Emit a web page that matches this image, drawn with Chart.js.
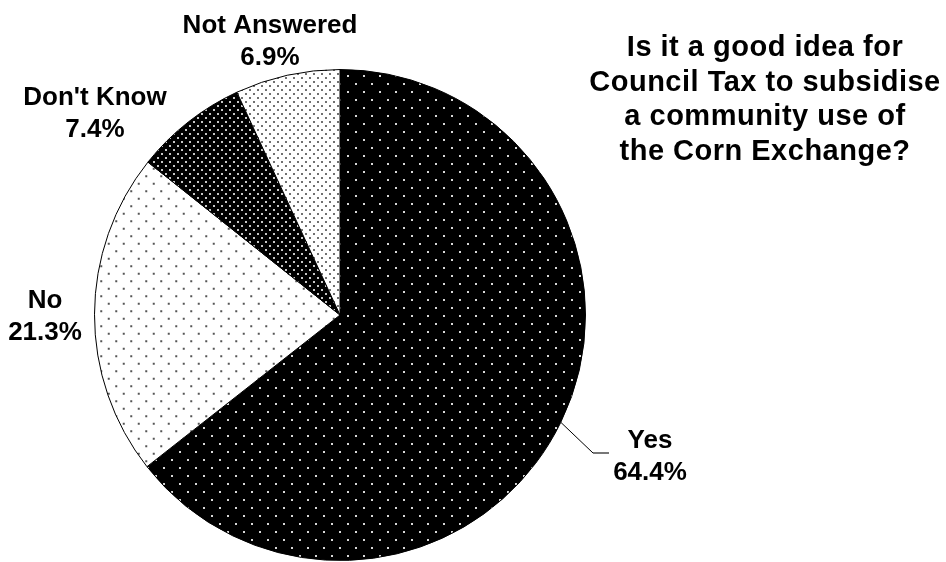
<!DOCTYPE html>
<html>
<head>
<meta charset="utf-8">
<script src="https://cdn.jsdelivr.net/npm/chart.js@4"></script>
<style>
  html, body { margin: 0; padding: 0; background: #fff; }
  #wrap { width: 946px; height: 562px; }
</style>
</head>
<body>
<div id="wrap"><canvas id="chart" width="946" height="562"></canvas></div>
<script>
const answers = ['Yes', 'No', "Don't Know", 'Not Answered'];
const shares = [64.4, 21.3, 7.4, 6.9];
const titleLines = ['Is it a good idea for', 'Council Tax to subsidise', 'a community use of', 'the Corn Exchange?'];

// label centres (x, y of first line) for each slice
const labelSpots = [[650, 441], [45, 301], [95, 98], [270, 26]];
const FONT = 'bold 26px "Liberation Sans", Arial, sans-serif';
const TITLE_FONT = 'bold 29px "Liberation Sans", Arial, sans-serif';

function dotPattern(bg, fg, size, dot) {
    const c = document.createElement('canvas');
    c.width = size;
    c.height = size;
    const x = c.getContext('2d');
    x.fillStyle = bg;
    x.fillRect(0, 0, size, size);
    x.fillStyle = fg;
    x.fillRect(size / 4 - dot / 2, size / 4 - dot / 2, dot, dot);
    x.fillRect(3 * size / 4 - dot / 2, 3 * size / 4 - dot / 2, dot, dot);
    return x.createPattern(c, 'repeat');
}

const fills = [
    dotPattern('#000', '#d8d8d8', 16, 2),
    dotPattern('#fff', '#555', 15, 2),
    dotPattern('#000', '#c8c8c8', 8, 2),
    dotPattern('#fff', '#222', 8, 1.6)
];

const labelPlugin = {
    id: 'labels',
    afterDraw(chart) {
        const ctx = chart.ctx;
        ctx.save();
        ctx.font = FONT;
        ctx.fillStyle = '#000';
        ctx.textAlign = 'center';
        ctx.textBaseline = 'middle';

        answers.forEach((name, i) => {
            const [lx, ly] = labelSpots[i];
            ctx.fillText(name, lx, ly);
            ctx.fillText(shares[i].toFixed(1) + '%', lx, ly + 32);
        });

        // leader line for Yes
        const arc = chart.getDatasetMeta(0).data[0];
        const mid = (arc.startAngle + arc.endAngle) / 2;
        const sx = arc.x + Math.cos(mid) * arc.outerRadius;
        const sy = arc.y + Math.sin(mid) * arc.outerRadius;
        ctx.strokeStyle = '#000';
        ctx.lineWidth = 1;
        ctx.beginPath();
        ctx.moveTo(sx, sy);
        ctx.lineTo(593, 453);
        ctx.stroke();
        ctx.strokeStyle = '#777';
        ctx.lineWidth = 2;
        ctx.beginPath();
        ctx.moveTo(593, 453);
        ctx.lineTo(609, 453);
        ctx.stroke();

        ctx.font = TITLE_FONT;
        ctx.letterSpacing = '0.5px';
        titleLines.forEach((line, i) => {
            ctx.fillText(line, 765, 48 + i * 34.5);
        });
        ctx.restore();
    }
};

new Chart(document.getElementById('chart'), {
    type: 'pie',
    data: {
        labels: answers,
        datasets: [{
            data: shares,
            backgroundColor: fills,
            borderColor: '#000',
            borderWidth: 1
        }]
    },
    options: {
        responsive: false,
        animation: false,
        events: [],
        layout: { padding: { left: 94, right: 360, top: 69, bottom: 1 } },
        plugins: {
            legend: { display: false },
            tooltip: { enabled: false }
        }
    },
    plugins: [labelPlugin]
});
</script>
</body>
</html>
